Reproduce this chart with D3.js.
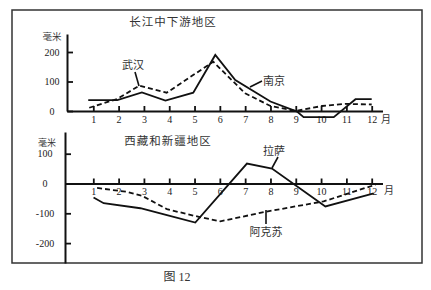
<!DOCTYPE html>
<html lang="zh">
<head>
  <meta charset="UTF-8" />
  <title>降水量距平</title>
  <script src="https://d3js.org/d3.v7.min.js" charset="utf-8"></script>
  <style>
    body { margin: 0; background: #fff; }
    .num { font-family: "Liberation Serif", "DejaVu Serif", serif; font-size: 10px; fill: #222; }
    .cjk { font-family: "Noto Sans CJK SC", sans-serif; fill: #333; }
    .solid { fill: none; stroke: #111; stroke-width: 1.8; }
    .dashed { fill: none; stroke: #111; stroke-width: 1.8; stroke-dasharray: 5,3; }
  </style>
</head>
<body>
<script>

const WIDTH = 431;
const HEIGHT = 290;

// month tick labels and y ticks
const months = [1, 2, 3, 4, 5, 6, 7, 8, 9, 10, 11, 12];
const topTicks = [0, 100, 200];
const bottomTicks = [100, 0, -100, -200];

// 长江中下游地区 (x in month units)
const nanjingMonth = [0.8, 1.95, 2.92, 3.85, 4.95, 5.82, 6.61, 8.0, 9.05, 9.31, 10.5, 11.36, 12.0];
const nanjingMm    = [37, 37, 63, 35, 62, 190, 105, 32, -2, -21, -21, 40, 40];
const wuhanMonth = [0.84, 1.95, 2.82, 3.9, 5.74, 7.0, 8.0, 9.0, 10.04, 10.96, 12.0];
const wuhanMm    = [11, 41, 86, 62, 167, 60, 17, 0, 17, 24, 22];

// 西藏和新疆地区
const lasaMonth = [1.01, 1.41, 2.86, 3.91, 5.03, 7.07, 8.06, 10.17, 12.08];
const lasaMm    = [-47, -66, -83, -106, -131, 67, 50, -77, -33];
const akesuMonth = [1.15, 2.33, 2.92, 3.91, 4.96, 6.02, 7.8, 10.1, 12.15];
const akesuMm    = [-15, -28, -41, -86, -108, -127, -95, -60, -4];

const svg = d3.select("body").append("svg")
    .attr("width", WIDTH)
    .attr("height", HEIGHT);

// frame
svg.append("rect")
    .attr("x", 12).attr("y", 10)
    .attr("width", 410).attr("height", 253)
    .attr("fill", "none")
    .attr("stroke", "#333")
    .attr("stroke-width", 1.5);

// x scale shared, axes extended to the y axis
const x = d3.scaleLinear().domain([1, 12]).range([93.3, 371.7]);
const xTop = x.copy().domain([x.invert(67), x.invert(382.5)]).range([67, 382.5]);
const xBot = x.copy().domain([x.invert(65), x.invert(382.5)]).range([65, 382.5]);

const yT = d3.scaleLinear().domain([0, 200]).range([111, 52]);
const yTop = yT.copy().domain([0, yT.invert(34)]).range([111, 34]);
const yB = d3.scaleLinear().domain([0, -100]).range([183.5, 213.3]);
const yBot = yB.copy().domain([yB.invert(263), yB.invert(132)]).range([263, 132]);

function styleAxis(g) {
    g.attr("color", "#111");
    g.select(".domain").attr("stroke-width", 2);
    g.selectAll(".tick line").attr("stroke-width", 1.8);
    g.selectAll("text").attr("class", "num").attr("font-family", null).attr("font-size", null);
}

function drawPanel(xs, ys, yTicks, yx, y0, labelX, monthPad) {
    svg.append("g")
        .attr("transform", `translate(${yx},0)`)
        .call(d3.axisLeft(ys).tickValues(yTicks).tickSize(-6).tickSizeOuter(0).tickFormat(d => String(d)))
        .call(styleAxis)
        .call(g => g.selectAll("text").attr("text-anchor", "middle").attr("x", labelX));
    svg.append("g")
        .attr("transform", `translate(0,${y0})`)
        .call(d3.axisBottom(xs).tickValues(months).tickSize(-5).tickSizeOuter(0).tickPadding(monthPad))
        .call(styleAxis);
}

drawPanel(xTop, yTop, topTicks, 67, 111, -15, 5);
drawPanel(xBot, yBot, bottomTicks, 65, 183.5, -20, 4);

function series(ms, vs, ys, cls) {
    const pts = ms.map((m, i) => [m, vs[i]]);
    svg.append("path")
        .datum(pts)
        .attr("class", cls)
        .attr("d", d3.line().x(d => x(d[0])).y(d => ys(d[1])));
}

series(wuhanMonth, wuhanMm, yT, "dashed");
series(nanjingMonth, nanjingMm, yT, "solid");
series(akesuMonth, akesuMm, yB, "dashed");
series(lasaMonth, lasaMm, yB, "solid");

// text labels
function label(txt, cx, cy, size, anchor) {
    return svg.append("text")
        .attr("class", "cjk")
        .attr("x", cx).attr("y", cy)
        .attr("dy", "0.35em")
        .attr("text-anchor", anchor || "middle")
        .attr("font-size", size)
        .text(txt);
}
function leader(x1, y1, x2, y2) {
    svg.append("line")
        .attr("x1", x1).attr("y1", y1).attr("x2", x2).attr("y2", y2)
        .attr("stroke", "#111").attr("stroke-width", 1.6);
}

label("长江中下游地区", 173, 21.5, 11.5).attr("letter-spacing", 1);
label("西藏和新疆地区", 168, 141, 11.5).attr("letter-spacing", 1);
label("毫米", 52, 37, 9.5);
label("毫米", 47, 142.5, 9);
label("月", 386, 119, 10);
label("月", 389, 190.5, 10);

label("武汉", 133, 65, 11);
leader(135, 72, 139, 86);
label("南京", 274, 81.5, 11);
leader(262, 81, 250, 87);
label("拉萨", 274, 151.5, 11);
leader(278, 157, 272, 168);
label("阿克苏", 266, 232, 11);
leader(266, 210, 266, 224);

svg.append("text")
    .attr("x", 177).attr("y", 277)
    .attr("dy", "0.35em")
    .attr("text-anchor", "middle")
    .attr("font-size", 12)
    .attr("fill", "#333")
    .html('<tspan font-family="Noto Sans CJK SC">图</tspan><tspan font-family="Liberation Serif"> 12</tspan>');

</script>
</body>
</html>
